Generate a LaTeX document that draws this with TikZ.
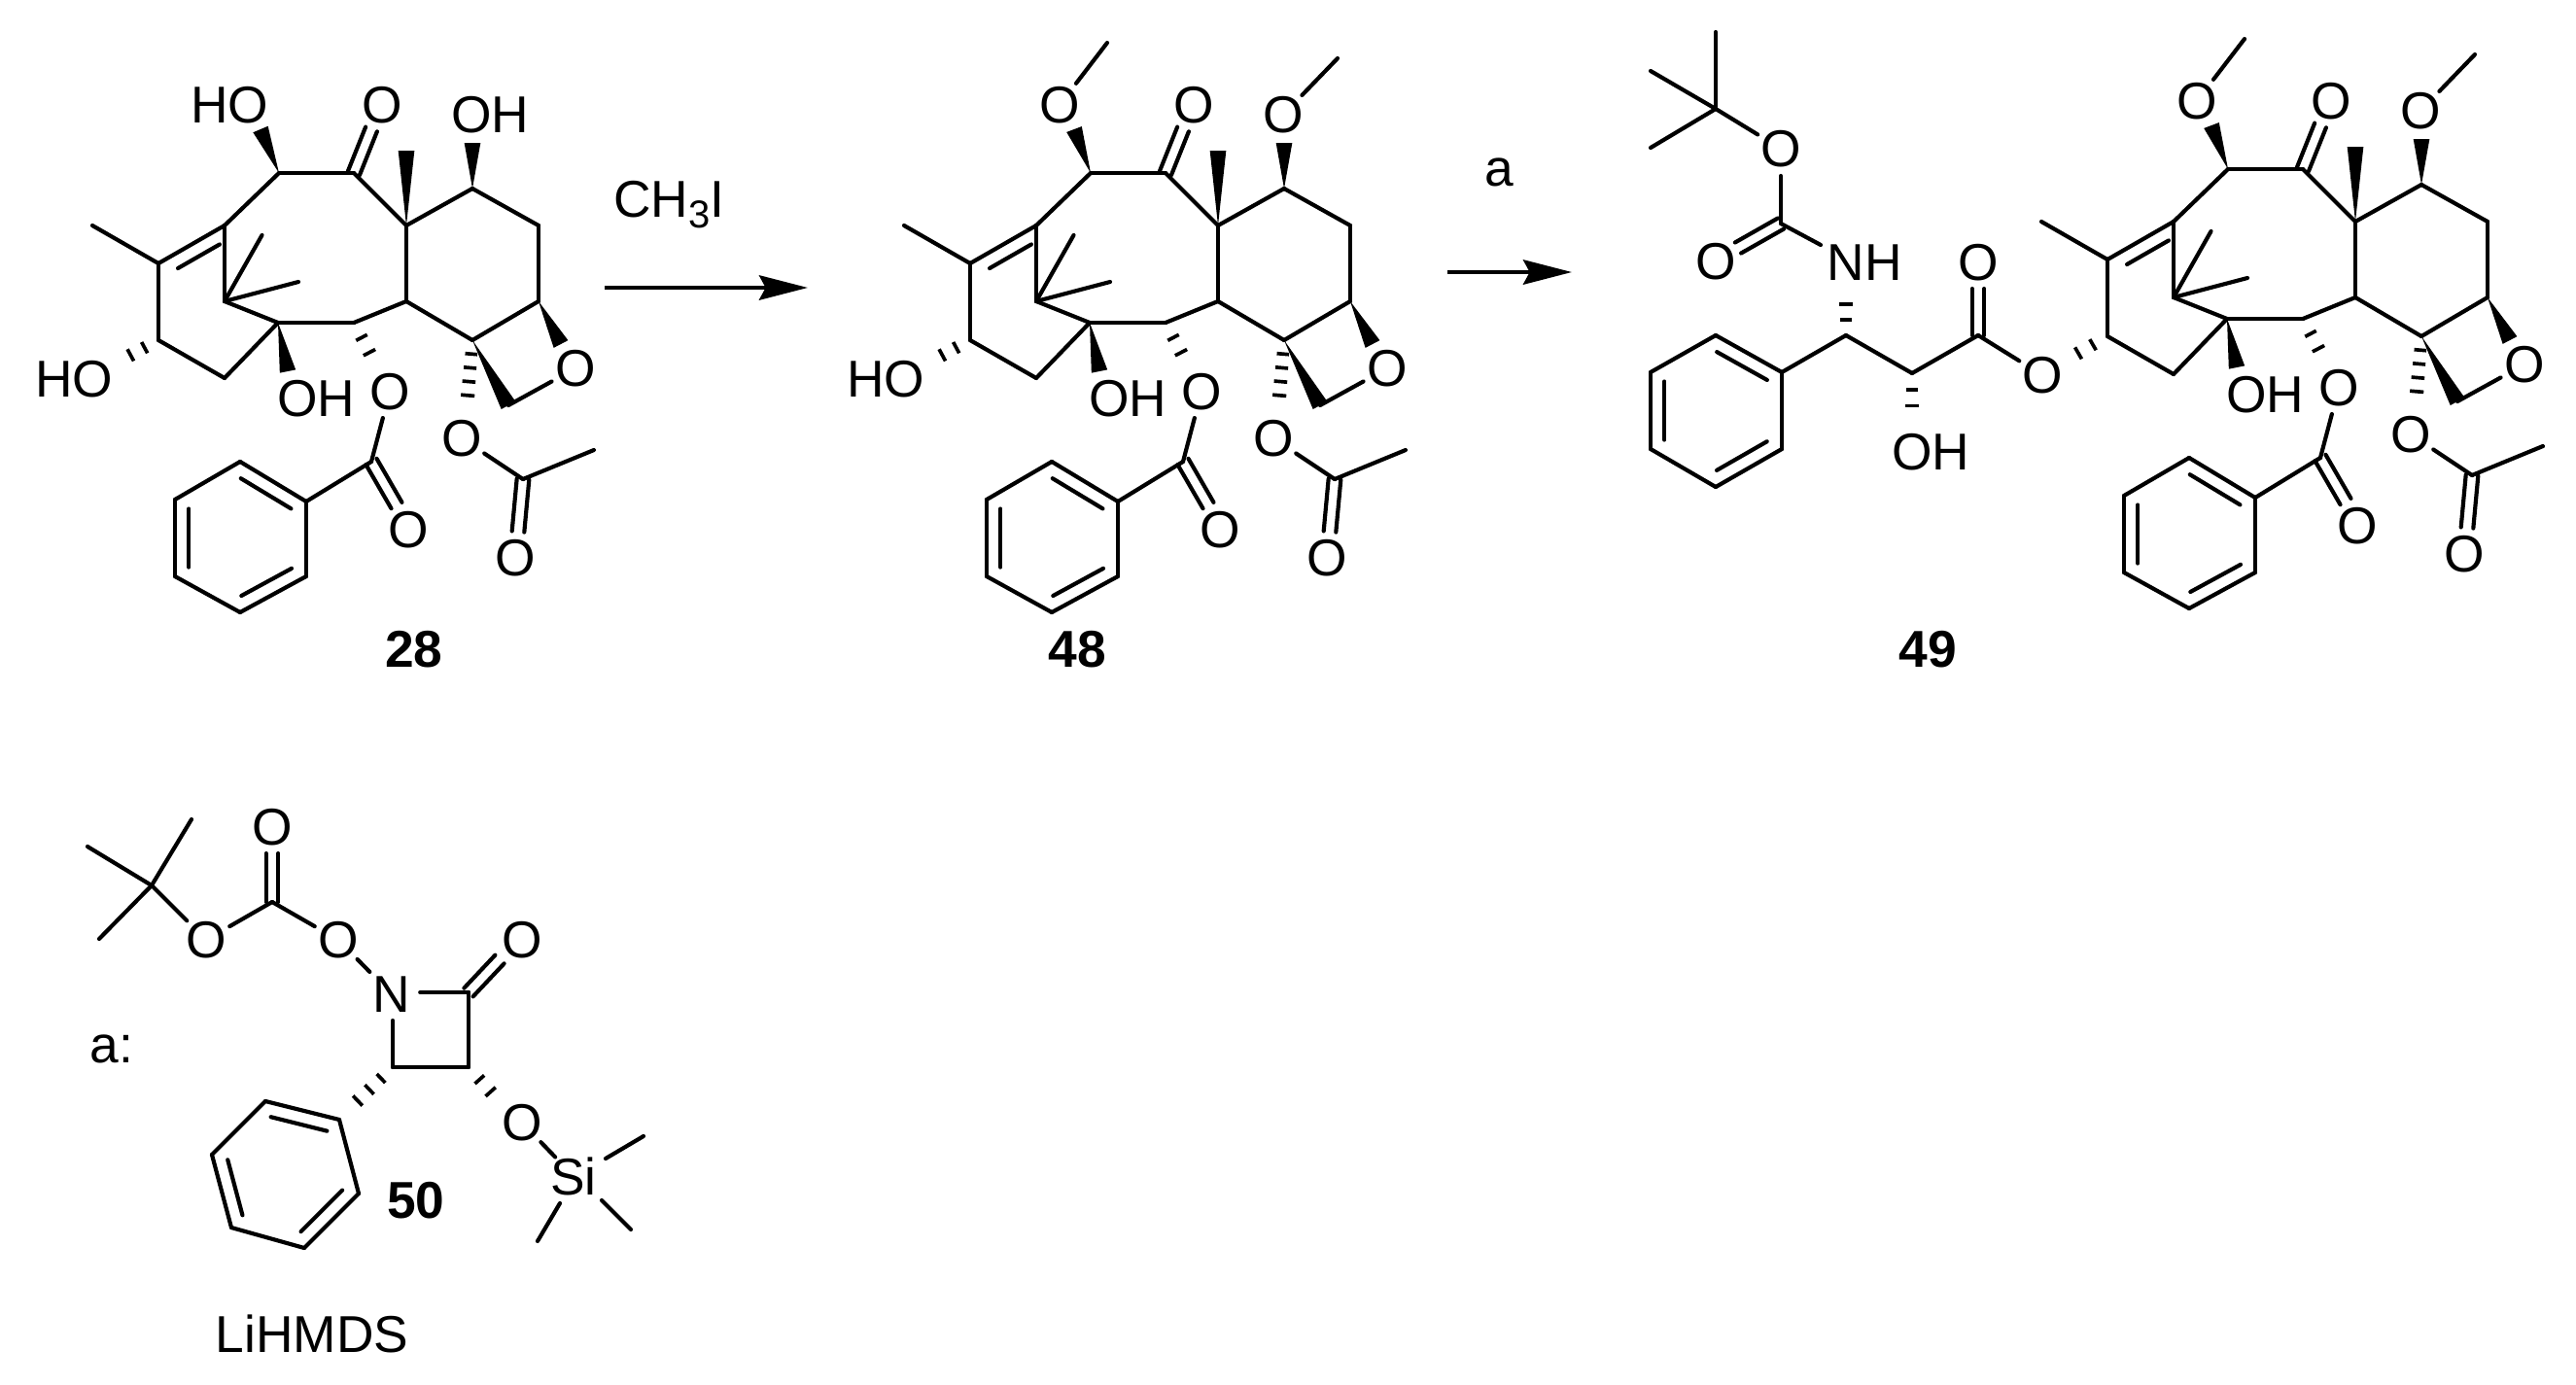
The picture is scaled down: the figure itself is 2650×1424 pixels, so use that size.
\documentclass[tikz,border=0pt]{standalone}
\usepackage{fontspec}
\setmainfont{Liberation Sans}
\usetikzlibrary{calc,arrows.meta}
\tikzset{
  bond/.style={line width=1.25pt,line cap=round,line join=round},
  hashstroke/.style={line width=1.1pt,line cap=butt},
  atom/.style={font=\fontsize{16}{16}\selectfont,inner sep=0pt,outer sep=0pt},
  oxy/.style={atom,circle},
  tag/.style={font=\fontsize{16}{16}\selectfont\bfseries,inner sep=0pt},
  rxn/.style={line width=1.3pt,-{Stealth[length=15pt,width=7.6pt,inset=2pt]}},
}
\newcommand\bd[2]{\draw[bond] (#1) -- (#2);}
\newcommand\dsym[2]{%
  \draw[bond] ($(#1)!1.9pt!90:(#2)$) -- ($(#2)!1.9pt!-90:(#1)$);
  \draw[bond] ($(#1)!1.9pt!-90:(#2)$) -- ($(#2)!1.9pt!90:(#1)$);}
\newcommand\dinn[3]{%
  \draw[bond] (#1) -- (#2);
  \draw[bond] ($(#1)!.12!(#2)!4.3pt!#3:(#2)$) -- ($(#1)!.88!(#2)!4.3pt!#3:(#2)$);}
\newcommand\wb[2]{\fill[line join=round] (#1) -- ($(#2)!2.5pt!90:(#1)$) -- ($(#2)!2.5pt!-90:(#1)$) -- cycle;}
\newcommand\hb[3]{\foreach \hi in {1,...,#3}{%
  \pgfmathsetmacro\hf{\hi/#3}\pgfmathsetmacro\hw{1.8+.4*\hf}%
  \draw[hashstroke] ($(#1)!\hf!(#2)!\hw pt!90:(#2)$) -- ($(#1)!\hf!(#2)!\hw pt!-90:(#2)$);}}
% benzene ring through six named corners, corners listed counter-clockwise
\newcommand\phring[6]{\dinn{#1}{#2}{90}\bd{#2}{#3}\dinn{#3}{#4}{90}\bd{#4}{#5}\dinn{#5}{#6}{90}\bd{#6}{#1}}
% the taxane skeleton shared by 28, 48 and 49
\newcommand\taxcore{%
  \coordinate (a1) at (287,178); \coordinate (a2) at (364,178);
  \coordinate (a3) at (418,232); \coordinate (a4) at (486,194);
  \coordinate (a5) at (554,232); \coordinate (a6) at (554,310);
  \coordinate (a7) at (418,310); \coordinate (a8) at (486,350);
  \coordinate (a9) at (364,332); \coordinate (a10) at (286,332);
  \coordinate (a11) at (231,310); \coordinate (a12) at (231,232);
  \coordinate (a13) at (163,271); \coordinate (a14) at (163,350);
  \coordinate (a15) at (231,389);
  \coordinate (me13) at (95,232); \coordinate (gem1) at (269.5,242);
  \coordinate (gem2) at (307,290); \coordinate (me3) at (418,155);
  \coordinate (w10) at (296,382); \coordinate (w8) at (523,417);
  \coordinate (w6) at (577,354); \coordinate (h9) at (388,378);
  \coordinate (h8) at (480,421); \coordinate (ke) at (382,133);
  \coordinate (bzc) at (382,475); \coordinate (bze) at (408,520);
  \coordinate (acc) at (538,493); \coordinate (ace) at (533,547);
  \coordinate (acm) at (611,463);
  \coordinate (ene1) at ($(a13)!.19!(a12)!4.3pt!-90:(a12)$);
  \coordinate (ene2) at ($(a13)!.82!(a12)!4.3pt!-90:(a12)$);
  \coordinate (p1) at (315,516); \coordinate (p2) at (247,475);
  \coordinate (p3) at (180,514); \coordinate (p4) at (180,593);
  \coordinate (p5) at (247,630); \coordinate (p6) at (315,593);
  \node[oxy] (oket) at (393,108) {O};
  \node[atom] (oh10) at (325,410) {OH};
  \node[oxy] (oes) at (401,403) {O};
  \node[oxy] (obz) at (420,545) {O};
  \node[oxy] (oac) at (475,451) {O};
  \node[oxy] (oacd) at (530,574) {O};
  \node[oxy] (ox) at (592,379) {O};
  \bd{a1}{a2}\bd{a2}{a3}\bd{a3}{a4}\bd{a4}{a5}\bd{a5}{a6}\bd{a6}{a8}
  \bd{a8}{a7}\bd{a7}{a3}\bd{a7}{a9}\bd{a9}{a10}\bd{a10}{a11}\bd{a11}{a12}
  \bd{a12}{a1}\bd{a13}{a12}\bd{ene1}{ene2}\bd{a13}{a14}\bd{a14}{a15}\bd{a15}{a10}
  \bd{a13}{me13}\bd{a11}{gem1}\bd{a11}{gem2}
  \dsym{a2}{ke}\wb{a3}{me3}\wb{a10}{w10}\wb{a8}{w8}\wb{a6}{w6}
  \bd{w8}{ox}\hb{a9}{h9}{3}\hb{a8}{h8}{5}
  \bd{oes}{bzc}\bd{bzc}{p1}\dsym{bzc}{bze}
  \phring{p1}{p2}{p3}{p4}{p5}{p6}
  \bd{oac}{acc}\bd{acc}{acm}\dsym{acc}{ace}
}
% two methoxy groups of 48 and 49
\newcommand\ometwo{%
  \coordinate (w1) at (270,133); \coordinate (w4) at (486,147);
  \coordinate (m1) at (304,44); \coordinate (m4) at (541,60);
  \node[oxy] (o1) at (255,108) {O};
  \node[oxy] (o4) at (485,118) {O};
  \wb{a1}{w1}\wb{a4}{w4}\bd{o1}{m1}\bd{o4}{m4}
}
\begin{document}
\begin{tikzpicture}[x=.3pt,y=-.3pt]
\useasboundingbox (0,0) rectangle (2650,1424);
% ---------- 28
\begin{scope}[name prefix=b28-]
  \taxcore
  \coordinate (w1) at (268,133); \coordinate (w4) at (486,147);
  \coordinate (h14) at (120,373);
  \node[atom] (oh1) at (236,108) {HO};
  \node[atom] (oh4) at (504,118) {OH};
  \node[atom] (oh14) at (76,390) {HO};
  \wb{a1}{w1}\wb{a4}{w4}\hb{a14}{h14}{3}
\end{scope}
\node[tag] (l28) at (426,668) {28};
% ---------- 48
\begin{scope}[shift={(835,0)},name prefix=b48-]
  \taxcore
  \ometwo
  \coordinate (h14) at (120,373);
  \node[atom] (oh14) at (76,390) {HO};
  \hb{a14}{h14}{3}
\end{scope}
\node[tag] (l48) at (1108,668) {48};
% ---------- 49
\begin{scope}[shift={(2005,-4)},name prefix=b49-]
  \taxcore
  \ometwo
\end{scope}
\coordinate (cb) at (1765,112); \coordinate (cb1) at (1765,33);
\coordinate (cb2) at (1698,73); \coordinate (cb3) at (1698,152);
\coordinate (cc) at (1832,230); \coordinate (cce) at (1788,255);
\coordinate (ch) at (1899,345); \coordinate (hn) at (1899,297);
\coordinate (choh) at (1967,384); \coordinate (hoh) at (1967,434);
\coordinate (ce) at (2035,345); \coordinate (cee) at (2035,297);
\coordinate (hos) at (2123,372);
\coordinate (nhe) at (1873,252);
\coordinate (q1) at (1833,383); \coordinate (q2) at (1765,345);
\coordinate (q3) at (1698,383); \coordinate (q4) at (1698,462);
\coordinate (q5) at (1765,501); \coordinate (q6) at (1833,462);
\node[oxy] (oc1) at (1832,153) {O};
\node[oxy] (oc2) at (1765,269) {O};
\node[atom] (nh) at (1918,270) {NH};
\node[atom] (ohc) at (1986,465) {OH};
\node[oxy] (oe1) at (2035,270) {O};
\node[oxy] (oe2) at (2101,386) {O};
\bd{cb}{cb1}\bd{cb}{cb2}\bd{cb}{cb3}\bd{cb}{oc1}\bd{oc1}{cc}
\dsym{cc}{cce}\bd{cc}{nhe}\hb{ch}{hn}{3}\bd{ch}{q1}\bd{ch}{choh}
\hb{choh}{hoh}{3}\bd{choh}{ce}\dsym{ce}{cee}\bd{ce}{oe2}
\hb{b49-a14}{hos}{3}
\phring{q1}{q2}{q3}{q4}{q5}{q6}
\node[tag] (l49) at (1983,668) {49};
% ---------- arrows and reagents
\coordinate (r1s) at (622,296); \coordinate (r1e) at (831,296);
\coordinate (r2s) at (1489,280); \coordinate (r2e) at (1617,280);
\draw[rxn] (r1s) -- (r1e);
\draw[rxn] (r2s) -- (r2e);
\node[atom,anchor=base west] (ch3i) at (631,223) {CH{\fontsize{12}{12}\selectfont\raisebox{-3.3pt}{3}}I};
\node[atom] (aa) at (1542,177) {a};
% ---------- 50
\coordinate (t0) at (156,911); \coordinate (t1) at (90,871);
\coordinate (t2) at (197,843); \coordinate (t3) at (102,966);
\coordinate (cz) at (280,928); \coordinate (cze) at (280,878);
\coordinate (cl) at (482,1021); \coordinate (cle) at (514,987);
\coordinate (c3) at (482,1098); \coordinate (c4) at (404,1098);
\coordinate (hc3) at (516,1136); \coordinate (hc4) at (356,1144);
\coordinate (r1) at (349,1152); \coordinate (r2) at (273,1133);
\coordinate (r3) at (218,1188); \coordinate (r4) at (238,1263);
\coordinate (r5) at (313,1284); \coordinate (r6) at (369,1228);
\coordinate (s1) at (662,1169); \coordinate (s2) at (649,1265);
\coordinate (s3) at (553,1277);
\coordinate (sb1) at (623,1192); \coordinate (sb2) at (619,1235);
\coordinate (sb3) at (576,1238); \coordinate (no) at (404,1050);
\node[atom] (colon) at (115,1079) {a:};
\node[oxy] (oz1) at (212,967) {O};
\node[oxy] (oz2) at (280,851) {O};
\node[oxy] (oz3) at (348,967) {O};
\node[atom] (nn) at (403,1023) {N};
\node[oxy] (ol) at (537,967) {O};
\node[oxy] (o3) at (537,1155) {O};
\node[atom] (si) at (590,1210) {Si};
\bd{t0}{t1}\bd{t0}{t2}\bd{t0}{t3}\bd{t0}{oz1}\bd{oz1}{cz}\dsym{cz}{cze}
\bd{cz}{oz3}
\draw[bond,shorten >=2pt] (oz3) -- (nn);
\draw[bond,shorten <=3pt] (nn.east |- cl) -- (cl);
\dsym{cl}{cle}\bd{cl}{c3}\bd{c3}{c4}\bd{no}{c4}
\hb{c3}{hc3}{3}\hb{c4}{hc4}{4}
\phring{r1}{r2}{r3}{r4}{r5}{r6}
\draw[bond] (o3) -- (si);
\bd{sb1}{s1}\bd{sb2}{s2}\bd{sb3}{s3}
\node[tag] (l50) at (428,1235) {50};
\node[atom] (li) at (321,1372) {LiHMDS};
\end{tikzpicture}
\end{document}
